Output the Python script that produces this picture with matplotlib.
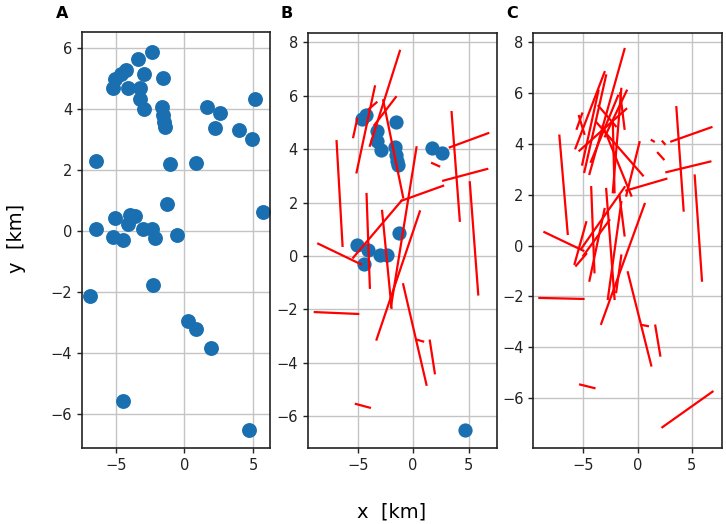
import matplotlib
matplotlib.use("Agg")
import matplotlib.pyplot as plt

# ---------------- data ----------------
# Panel A: epicentres (km)
a_x = [-2.38, -3.35, -4.25, -4.64, -5.05, -5.17, -4.08, -2.94, -3.23, -3.23, -2.94, -1.58,
       -1.65, -1.53, -1.48, -1.41, 1.67, 2.60, 2.23, 3.96, 4.90, 5.10, -6.46, -1.02, 0.83,
       -1.29, 5.70, -6.46, -5.05, -3.96, -3.59, -4.08, -5.17, -4.45, -2.99, -2.38, -2.14,
       -0.56, -6.87, -2.30, 0.24, 0.83, 1.92, -4.45, 4.66]
a_y = [5.87, 5.62, 5.27, 5.14, 4.97, 4.67, 4.67, 5.14, 4.67, 4.31, 3.98, 5.00,
       4.07, 3.79, 3.57, 3.41, 4.05, 3.87, 3.38, 3.30, 3.00, 4.31, 2.30, 2.19, 2.24,
       0.88, 0.61, 0.05, 0.41, 0.51, 0.48, 0.24, -0.20, -0.30, 0.05, 0.05, -0.22,
       -0.14, -2.14, -1.76, -2.95, -3.20, -3.82, -5.57, -6.51]

# Panel B: selected epicentres
b_x = [-4.64, -4.25, -1.58, -3.23, -3.23, -2.94, -1.65, -1.53, -1.48, -1.41, 1.67, 2.60,
       -1.29, -5.05, -4.08, -4.45, -2.99, -2.38, 4.66]
b_y = [5.14, 5.27, 5.00, 4.67, 4.31, 3.98, 4.07, 3.79, 3.57, 3.41, 4.05, 3.87,
       0.88, 0.41, 0.24, -0.30, 0.05, 0.05, -6.51]

# Panel B: fault segments (x0, y0, x1, y1) in km
b_faults = [
    (-1.20, 7.68, -3.90, 4.13),
    (-3.45, 6.35, -5.10, 3.13),
    (-1.56, 5.95, -3.50, 4.90),
    (-4.00, 5.50, -3.30, 5.75),
    (-5.40, 4.45, -5.04, 5.14),
    (-2.70, 5.83, -0.90, 2.19),
    (0.30, 4.07, -2.00, -1.90),
    (-1.05, 2.07, 2.70, 2.63),
    (2.70, 2.82, 6.67, 3.26),
    (3.46, 5.39, 4.20, 1.32),
    (3.30, 4.07, 6.76, 4.60),
    (1.70, 3.48, 2.34, 3.36),
    (-6.90, 4.30, -6.36, 0.38),
    (-8.55, 0.46, -4.70, -0.31),
    (-4.20, 2.32, -3.90, -1.19),
    (-2.80, 1.69, -1.95, -1.94),
    (0.60, 1.67, -3.30, -3.13),
    (5.10, 2.76, 5.86, -1.44),
    (-5.40, -0.06, -1.05, 2.07),
    (-0.90, -1.06, 1.20, -4.82),
    (0.30, -3.13, 0.90, -3.20),
    (1.50, -3.17, 1.95, -4.39),
    (-8.86, -2.10, -4.95, -2.17),
    (-5.16, -5.54, -3.90, -5.68),
]

# Panel C: all fault segments (x0, y0, x1, y1) in km
c_faults = [
    (-1.20, 7.74, -4.43, 2.82),
    (-3.04, 6.83, -5.72, 3.83),
    (-3.60, 6.10, -5.10, 3.19),
    (-1.50, 6.17, -2.28, 2.10),
    (-1.04, 5.38, -5.35, 3.74),
    (-3.80, 4.86, 0.49, 2.76),
    (-3.20, 4.72, -0.58, 1.97),
    (0.18, 4.07, -1.04, 1.97),
    (-7.20, 4.33, -6.43, 0.46),
    (-1.04, 2.17, 2.65, 2.63),
    (-2.28, 4.86, -2.12, 2.10),
    (-2.90, 6.70, -4.90, 2.90),
    (-1.00, 6.10, -3.00, 4.30),
    (-5.40, 5.10, -4.90, 4.40),
    (-5.60, 4.60, -5.10, 5.20),
    (-1.60, 6.00, -1.20, 4.60),
    (-4.30, 3.30, -1.80, 5.90),
    (-3.60, 5.50, -2.00, 4.70),
    (-8.58, 0.53, -5.00, -0.20),
    (-5.20, -0.13, -1.20, 2.30),
    (-5.00, -0.40, -2.60, 1.00),
    (-4.73, 0.92, -5.80, -0.72),
    (-4.27, 2.30, -3.97, -1.05),
    (-3.04, 1.44, -4.43, -1.38),
    (-2.89, 2.23, -2.12, -2.10),
    (-1.50, 1.71, -2.74, -2.10),
    (0.65, 1.64, -3.35, -3.08),
    (-1.50, -0.39, -1.97, -1.83),
    (-0.90, -1.05, 1.26, -4.72),
    (-5.66, -0.79, -4.73, -0.33),
    (-1.66, 1.97, -1.20, 0.40),
    (-9.04, -2.06, -4.98, -2.10),
    (-5.29, -5.47, -3.97, -5.61),
    (0.34, -3.12, 0.95, -3.17),
    (1.63, -3.15, 2.09, -4.33),
    (5.26, 2.76, 5.93, -1.38),
    (2.28, -7.15, 6.90, -5.75),
    (3.57, 5.45, 4.24, 1.38),
    (3.10, 4.10, 6.80, 4.66),
    (2.65, 2.89, 6.70, 3.31),
    (1.30, 4.15, 1.50, 4.10),
    (2.30, 4.10, 2.50, 4.00),
    (1.87, 3.65, 2.40, 3.40),
]

xticks = [-5, 0, 5]
a_yticks = [-6, -4, -2, 0, 2, 4, 6]
bc_yticks = [-6, -4, -2, 0, 2, 4, 6, 8]

# ---------------- figure ----------------
W, H = 726, 524
fig = plt.figure(figsize=(W / 100, H / 100), dpi=100)

def box(l, t, r, b):
    return [l / W, 1 - b / H, (r - l) / W, (b - t) / H]

dot_color = "#1a6fb0"

def style(ax, yt):
    ax.set_xticks(xticks)
    ax.set_yticks(yt)
    ax.grid(True, color="#c4c4c4", lw=1.0)
    ax.set_axisbelow(True)
    ax.tick_params(labelsize=10.5, length=3.5, width=1, colors="#222222")
    for s in ax.spines.values():
        s.set_linewidth(1.2)
        s.set_color("#222222")

axA = fig.add_axes(box(82, 32, 270, 448))
axA.scatter(a_x, a_y, s=115, color=dot_color, zorder=2, linewidths=0)
axA.set_xlim(-7.45, 6.22)
axA.set_ylim(-7.1, 6.51)
style(axA, a_yticks)

axB = fig.add_axes(box(307.7, 33, 497, 448.3))
axB.scatter(b_x, b_y, s=105, color=dot_color, zorder=2, linewidths=0)
for x0, y0, x1, y1 in b_faults:
    axB.plot([x0, x1], [y0, y1], color="red", lw=1.6, zorder=3)
axB.set_xlim(-9.5, 7.55)
axB.set_ylim(-7.2, 8.35)
style(axB, bc_yticks)

axC = fig.add_axes(box(533.3, 33, 722.3, 448.3))
for x0, y0, x1, y1 in c_faults:
    axC.plot([x0, x1], [y0, y1], color="red", lw=1.6, zorder=3)
axC.set_xlim(-9.6, 7.8)
axC.set_ylim(-7.98, 8.37)
style(axC, bc_yticks)

fig.text(56 / W, 1 - 13 / H, "A", fontsize=11.5, fontweight="bold", va="center", ha="left")
fig.text(280 / W, 1 - 13 / H, "B", fontsize=11.5, fontweight="bold", va="center", ha="left")
fig.text(506 / W, 1 - 13 / H, "C", fontsize=11.5, fontweight="bold", va="center", ha="left")

fig.text(392 / W, 1 - 512 / H, "x  [km]", fontsize=14, ha="center", va="center")
fig.text(16 / W, 1 - 238 / H, "y  [km]", fontsize=14, ha="center", va="center", rotation=90)

fig.savefig("out.png", dpi=100)
